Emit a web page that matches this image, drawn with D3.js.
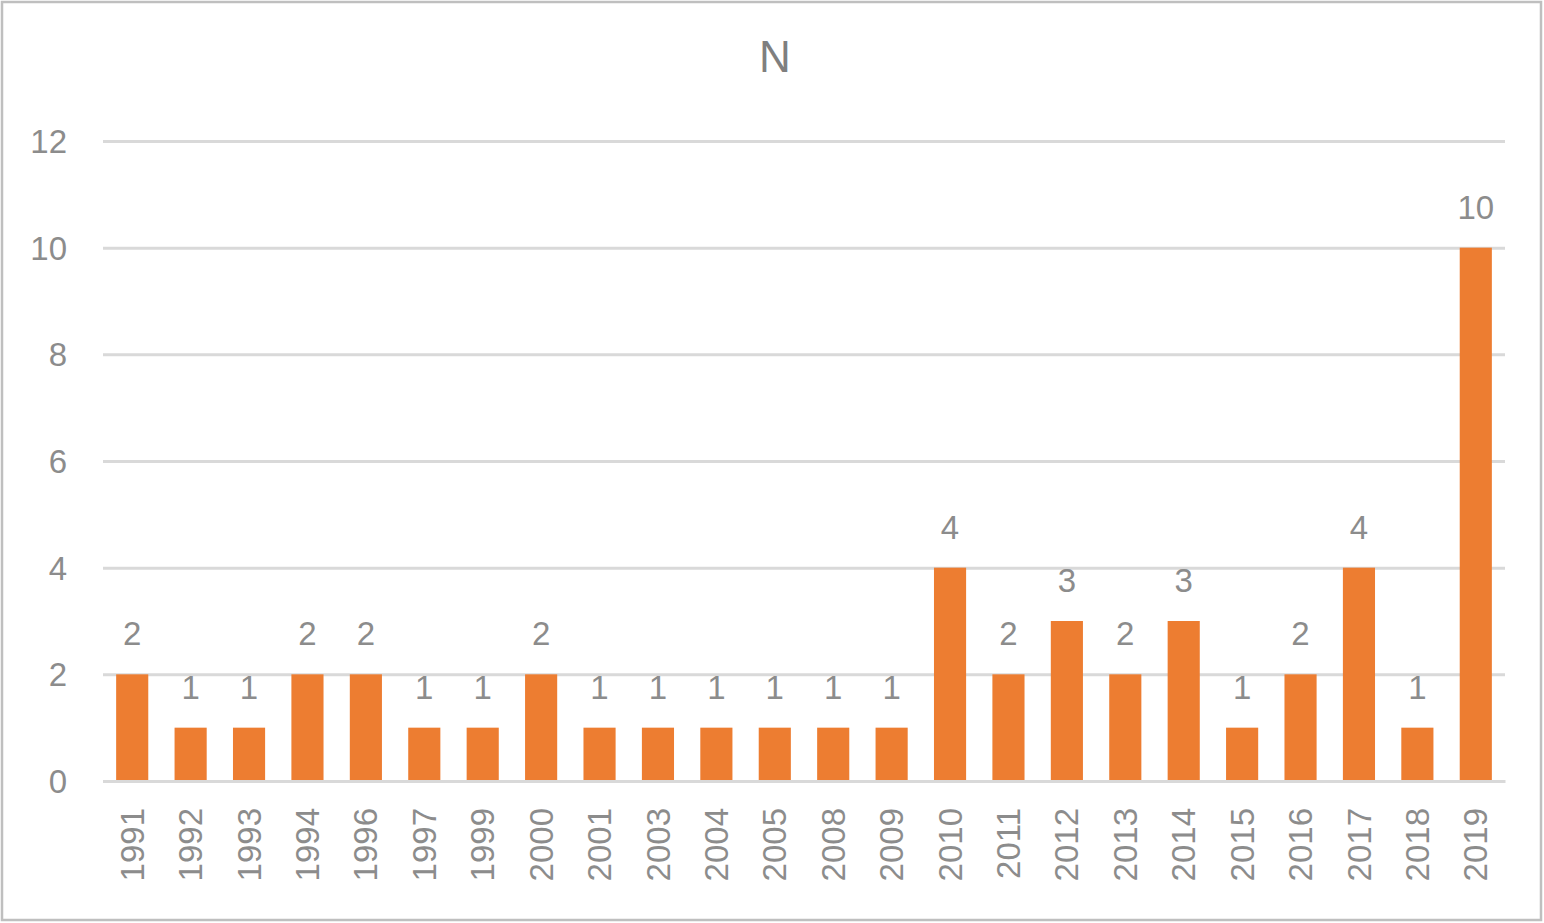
<!DOCTYPE html>
<html><head><meta charset="utf-8">
<script src="https://cdn.jsdelivr.net/npm/d3@7"></script>
<style>
html,body{margin:0;padding:0;background:#fff;}
svg text{font-family:"Liberation Sans","Open Sans",Arial,sans-serif;}
</style></head>
<body>
<svg id="chart" width="1544" height="923"></svg>
<script>
const categories = ["1991","1992","1993","1994","1996","1997","1999","2000","2001","2003","2004","2005","2008","2009","2010","2011","2012","2013","2014","2015","2016","2017","2018","2019"];
const values = [2,1,1,2,2,1,1,2,1,1,1,1,1,1,4,2,3,2,3,1,2,4,1,10];
const yTicks = [0,2,4,6,8,10,12];
const title = "N";

(function(){
const svg = d3.select("#chart");
const W = 1544, H = 923;
const textColor = "#8c8c8c";

svg.append("rect").attr("x",2).attr("y",2).attr("width",W-5).attr("height",H-5)
  .attr("fill","#fff").attr("stroke","#bfbfbf").attr("stroke-width",2.5);

const mL = 103, mR = 1505, mT = 141, mB = 781;
const x = d3.scaleBand().domain(categories).range([mL,mR]).paddingInner(0.45).paddingOuter(0.225);
const y = d3.scaleLinear().domain([0,12]).range([mB,mT]);

svg.append("text").attr("x",775).attr("y",72).attr("text-anchor","middle")
  .attr("font-size",44).attr("fill","#7f7f7f").text(title);

const yAxis = d3.axisLeft(y).tickValues(yTicks).tickSize(-(mR-mL)).tickPadding(0);
const gy = svg.append("g").attr("transform",`translate(${mL},0)`).call(yAxis);
gy.select(".domain").remove();
gy.selectAll(".tick line").attr("stroke","#d9d9d9").attr("stroke-width",3);
gy.selectAll(".tick text").attr("x",-36).attr("font-size",33).attr("fill",textColor).attr("dy","0.35em");

svg.append("g").selectAll("rect").data(values).join("rect")
  .attr("x",(d,i)=>x(categories[i])).attr("width",x.bandwidth())
  .attr("y",d=>y(d)).attr("height",d=>y(0)-y(d)).attr("fill","#ED7D31");

svg.append("g").selectAll("text").data(values).join("text")
  .attr("x",(d,i)=>x(categories[i])+x.bandwidth()/2)
  .attr("y",d=>y(d)-29).attr("text-anchor","middle")
  .attr("font-size",33).attr("fill",textColor).text(d=>d);

const xAxis = d3.axisBottom(x).tickSize(0).tickPadding(0);
const gx = svg.append("g").attr("transform",`translate(0,${mB})`).call(xAxis);
gx.select(".domain").attr("stroke","#d9d9d9").attr("stroke-width",3);
gx.selectAll(".tick text")
  .attr("transform","rotate(-90)")
  .attr("x",-27).attr("y",0).attr("dy","0.35em")
  .attr("text-anchor","end").attr("font-size",33).attr("fill",textColor);
})();
</script>
</body></html>
